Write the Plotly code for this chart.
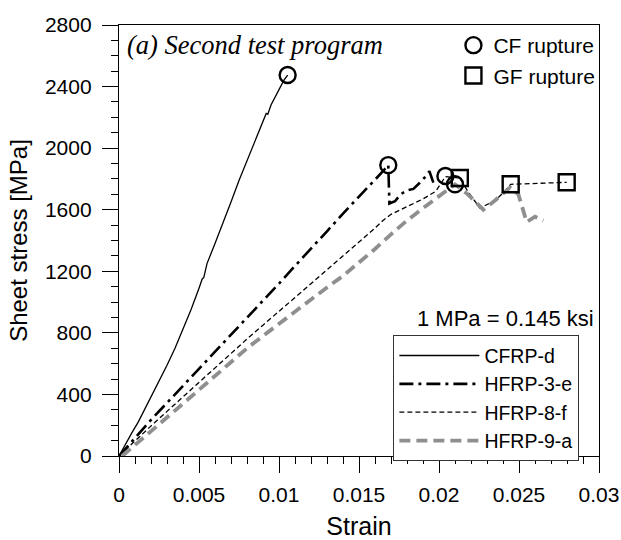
import plotly.graph_objects as go

# ---------------- data ----------------
cfrp_d_strain = [0, 0.0004, 0.0008, 0.0012, 0.0016, 0.002, 0.0025, 0.003, 0.0035, 0.004, 0.0045,
                 0.005, 0.0052, 0.0053, 0.0055, 0.006, 0.0065, 0.007, 0.0075, 0.008, 0.0085,
                 0.009, 0.0092, 0.0093, 0.0095, 0.01, 0.0103, 0.01054]
cfrp_d_stress = [0, 80, 150, 220, 300, 385, 480, 590, 700, 820, 950,
                 1090, 1150, 1160, 1250, 1380, 1510, 1650, 1790, 1920, 2050,
                 2170, 2225, 2220, 2280, 2380, 2440, 2475]

hfrp3e_strain = [0, 0.0005, 0.001, 0.002, 0.003, 0.004, 0.005, 0.006, 0.007, 0.008, 0.009,
                 0.010, 0.011, 0.012, 0.013, 0.014, 0.015, 0.016, 0.0165, 0.01683,
                 0.0169, 0.01725, 0.0176, 0.0180, 0.0184, 0.0188, 0.0192, 0.0194, 0.01965]
hfrp3e_stress = [0, 60, 120, 235, 345, 455, 565, 675, 785, 900, 1010,
                 1120, 1235, 1345, 1460, 1575, 1685, 1790, 1850, 1890,
                 1640, 1655, 1700, 1725, 1735, 1775, 1820, 1850, 1775]

hfrp8f_strain = [0, 0.0005, 0.001, 0.002, 0.003, 0.004, 0.005, 0.006, 0.007, 0.008, 0.009,
                 0.010, 0.011, 0.012, 0.013, 0.014, 0.015, 0.016, 0.0165, 0.017, 0.018,
                 0.019, 0.0198, 0.0204, 0.0213, 0.0218, 0.02256, 0.0235, 0.024, 0.02448, 0.02798]
hfrp8f_stress = [0, 50, 100, 195, 290, 385, 480, 570, 665, 760, 850,
                 940, 1030, 1120, 1210, 1295, 1385, 1480, 1530, 1570, 1620,
                 1670, 1720, 1815, 1806, 1720, 1610, 1660, 1708, 1765, 1778]

hfrp9a_strain = [0.0002, 0.001, 0.002, 0.003, 0.004, 0.005, 0.006, 0.007, 0.008, 0.009, 0.010,
                 0.011, 0.012, 0.013, 0.014, 0.015, 0.016, 0.017, 0.018, 0.019, 0.020, 0.021,
                 0.0218, 0.02277, 0.0235, 0.02444, 0.02496, 0.02548, 0.026, 0.02652]
hfrp9a_stress = [0, 70, 160, 250, 340, 430, 520, 610, 700, 780, 860,
                 935, 1015, 1095, 1170, 1255, 1345, 1440, 1530, 1610, 1690, 1765,
                 1700, 1600, 1660, 1745, 1700, 1520, 1555, 1530]

cf_rupture_strain = [0.01054, 0.01683, 0.0204, 0.0210]
cf_rupture_stress = [2475, 1890, 1819, 1765]
gf_rupture_strain = [0.0213, 0.02448, 0.02798]
gf_rupture_stress = [1806, 1765, 1778]

x_tickvals = [0, 0.005, 0.01, 0.015, 0.02, 0.025, 0.03]
x_ticktext = ["0", "0.005", "0.01", "0.015", "0.02", "0.025", "0.03"]
y_tickvals = [0, 400, 800, 1200, 1600, 2000, 2400, 2800]

# ---------------- figure ----------------
SANS = "Liberation Sans, Arial, sans-serif"
SERIF = "Liberation Serif, Times New Roman, serif"

fig = go.Figure()
fig.add_trace(go.Scatter(x=cfrp_d_strain, y=cfrp_d_stress, mode="lines", name="CFRP-d",
                         line=dict(color="black", width=1.3)))
fig.add_trace(go.Scatter(x=hfrp3e_strain, y=hfrp3e_stress, mode="lines", name="HFRP-3-e",
                         line=dict(color="black", width=2.6, dash="14px,5px,3px,5px")))
fig.add_trace(go.Scatter(x=hfrp8f_strain, y=hfrp8f_stress, mode="lines", name="HFRP-8-f",
                         line=dict(color="black", width=1.3, dash="5px,3px")))
fig.add_trace(go.Scatter(x=hfrp9a_strain, y=hfrp9a_stress, mode="lines", name="HFRP-9-a",
                         line=dict(color="#8f8f8f", width=3.8, dash="11px,6px")))
fig.add_trace(go.Scatter(x=cf_rupture_strain, y=cf_rupture_stress, mode="markers", name="CF rupture",
                         legend="legend2",
                         marker=dict(symbol="circle-open", size=16, color="black", line=dict(width=2.4))))
fig.add_trace(go.Scatter(x=gf_rupture_strain, y=gf_rupture_stress, mode="markers", name="GF rupture",
                         legend="legend2",
                         marker=dict(symbol="square-open", size=16, color="black", line=dict(width=2.4))))

axis_common = dict(showline=True, linecolor="black", linewidth=1.3, showgrid=False, zeroline=False,
                   automargin=False,
                   ticks="outside", ticklen=16, tickwidth=1.3, tickcolor="black",
                   tickfont=dict(family=SANS, size=21, color="black"))
x_minor = dict(dtick=0.001, ticks="outside", ticklen=7, tickwidth=1.3, tickcolor="black")

fig.update_xaxes(range=[0, 0.03], tickvals=x_tickvals, ticktext=x_ticktext, mirror=True,
                 minor=x_minor,
                 title=dict(text="Strain", font=dict(family=SANS, size=25, color="black"), standoff=12),
                 ticklabelstandoff=4, **axis_common)
fig.update_yaxes(range=[0, 2800], tickvals=y_tickvals, mirror=True,
                 minor=dict(dtick=100, ticks="outside", ticklen=7, tickwidth=1.3, tickcolor="black"),
                 title=dict(text="Sheet stress [MPa]", font=dict(family=SANS, size=24, color="black"), standoff=10),
                 ticklabelstandoff=6, **axis_common)

fig.add_annotation(xref="paper", yref="paper", x=0.012, y=0.954, xanchor="left", yanchor="middle",
                   text="<i>(a) Second test program</i>", showarrow=False,
                   font=dict(family=SERIF, size=26.5, color="black"))
fig.add_annotation(xref="paper", yref="paper", x=0.994, y=0.32, xanchor="right", yanchor="middle",
                   text="1 MPa = 0.145 ksi", showarrow=False,
                   font=dict(family=SANS, size=22, color="black"))

fig.update_layout(
    width=621, height=540, autosize=False,
    margin=dict(l=119, r=22, t=25, b=84, autoexpand=False),
    paper_bgcolor="white", plot_bgcolor="white",
    font=dict(family=SANS, color="black"),
    xaxis2=dict(overlaying="x", side="top", anchor="y", range=[0, 0.03], tickvals=x_tickvals,
                showticklabels=False, showline=False, showgrid=False, zeroline=False, automargin=False,
                ticks="outside", ticklen=16, tickwidth=1.3, tickcolor="black", minor=x_minor),
    legend=dict(x=0.571, y=0.2807, xanchor="left", yanchor="top",
                bordercolor="#333333", borderwidth=1.3, bgcolor="white",
                font=dict(family=SANS, size=19.5, color="black"), itemwidth=80, tracegroupgap=0),
    legend2=dict(x=1.003, y=1.0, xanchor="right", yanchor="top",
                 bgcolor="rgba(0,0,0,0)", borderwidth=0,
                 font=dict(family=SANS, size=21, color="black"), itemwidth=30),
)

fig.write_html("out.html")
